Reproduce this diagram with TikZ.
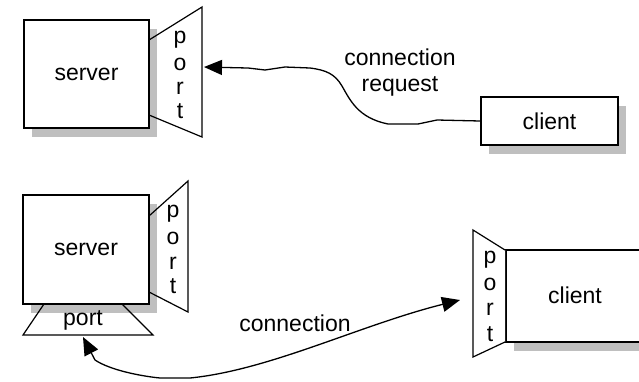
\documentclass[tikz,border=0pt]{standalone}
\usepackage{fontspec}
\setmainfont{Liberation Sans}
\usetikzlibrary{arrows.meta,shadows}
\begin{document}
\begin{tikzpicture}[x=1pt,y=-1pt,
  every node/.style={font=\fontsize{23}{26}\selectfont},
  box/.style={draw,line width=1.5pt,fill=white,inner sep=0pt,
    drop shadow={shadow xshift=8pt,shadow yshift=-9pt,fill=black!25,opacity=1}},
  portline/.style={line width=1.2pt,line join=miter},
  wire/.style={line width=1.3pt},
  tip/.style={-{Triangle[length=18pt,width=15pt]}},
  lbl/.style={inner sep=0pt}]
\useasboundingbox (0,0) rectangle (639,381);
\clip (0,0) rectangle (639,381);
% ---------- top ----------
\node[box,minimum width=125pt,minimum height=108pt] (srv1) at (86.5,74) {server};
\draw[portline] (149,40) coordinate (p1a) -- (202,7) coordinate (p1b) -- (202,137) coordinate (p1c) -- (149,115) coordinate (p1d);
\coordinate (p1tip) at (204,67);
\node[lbl] (p1p) at (180,40) {p};
\node[lbl] (p1o) at (180,64) {o};
\node[lbl] (p1r) at (180,88) {r};
\node[lbl] (p1t) at (180,111) {t};
\node[box,minimum width=137pt,minimum height=48pt] (cli1) at (549.5,121) {client};
\node[lbl,align=center] (req) at (400,73) {connection\\request};
\draw[wire,tip] (cli1.west) -- (437,120) -- (418,124) -- (388,124)
  .. controls (358,118) and (350,100) .. (342,86)
  .. controls (335,74) and (326,70) .. (310,68)
  -- (285,67) -- (265,70) -- (248,68) -- (p1tip);
% ---------- bottom ----------
\node[box,minimum width=126pt,minimum height=109pt] (srv2) at (86,249.5) {server};
\draw[portline] (149,216) -- (188,181) -- (188,312) -- (149,292);
\node[lbl] (p2p) at (173,214) {p};
\node[lbl] (p2o) at (173,238) {o};
\node[lbl] (p2r) at (173,263) {r};
\node[lbl] (p2t) at (173,286) {t};
\draw[portline] (44,304) -- (23,335) coordinate (pb1) -- (153,335) coordinate (pb2) -- (122,304);
\node[lbl] (p2b) at (83,320) {port};
\coordinate (pbtip) at (83,337);
% client 2
\node[box,minimum width=160pt,minimum height=92pt,anchor=west] (cli2) at (505,296) {};
\node[lbl] (cli2t) at (575,295) {client};
\draw[portline,fill=white] (505,250) -- (473,230) -- (473,357) -- (505,342);
\node[lbl] (c2p) at (490,260) {p};
\node[lbl] (c2o) at (490,284) {o};
\node[lbl] (c2r) at (490,309) {r};
\node[lbl] (c2t) at (490,334) {t};
\coordinate (c2tip) at (460,300);
\node[lbl] (conn) at (295,323) {connection};
\draw[wire,tip] (95,360) .. controls (110,370) and (140,376) .. (160,378) -- (190,378)
  .. controls (270,370) and (360,325) .. (c2tip);
\draw[wire,tip] (95,360) -- (pbtip);
\end{tikzpicture}
\end{document}
